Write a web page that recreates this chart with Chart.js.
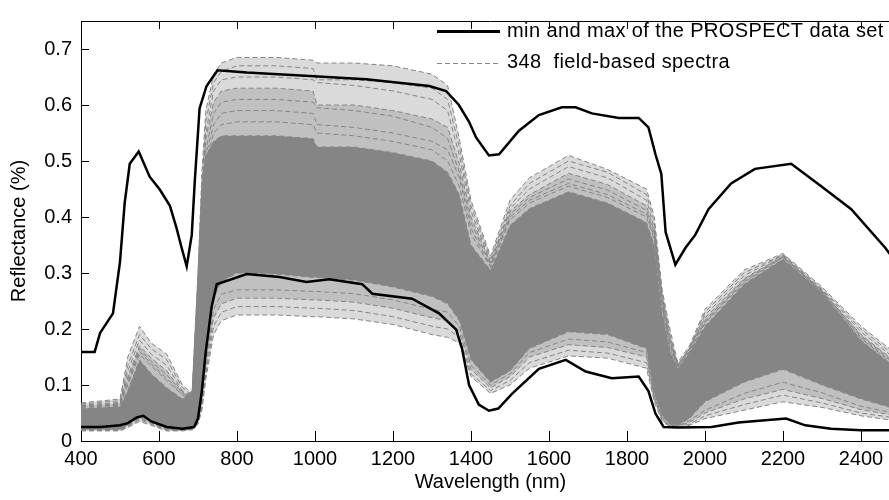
<!DOCTYPE html>
<html>
<head>
<meta charset="utf-8">
<title>Reflectance spectra</title>
<script src="https://cdn.jsdelivr.net/npm/chart.js@4.4.1/dist/chart.umd.min.js"></script>
<style>
  html, body { margin: 0; padding: 0; background: #fff; overflow: hidden; }
  #wrap { position: relative; width: 910px; height: 500px; }
</style>
</head>
<body>
<div id="wrap"><canvas id="chart"></canvas></div>
<script>
// axis ticks
const xTicks = [400, 600, 800, 1000, 1200, 1400, 1600, 1800, 2000, 2200, 2400];
const yTicks = [0, 0.1, 0.2, 0.3, 0.4, 0.5, 0.6, 0.7];

// PROSPECT max envelope (nm, reflectance)
const maxWl = [400, 435, 449, 482, 500, 512, 525, 548, 576, 602, 628, 645, 658, 671, 684, 692, 699, 704, 722, 750,
  825, 986, 1131, 1293, 1336, 1369, 1395, 1413, 1446, 1472, 1523, 1574, 1633, 1668, 1710, 1779, 1830, 1855, 1873,
  1888, 1899, 1924, 1950, 1975, 2009, 2067, 2128, 2221, 2298, 2375, 2462, 2500];
const maxRefl = [0.159, 0.159, 0.193, 0.228, 0.32, 0.425, 0.495, 0.517, 0.472, 0.449, 0.42, 0.38, 0.345, 0.312, 0.368, 0.467, 0.54, 0.594, 0.634, 0.662,
  0.658, 0.652, 0.646, 0.634, 0.625, 0.60, 0.57, 0.542, 0.51, 0.512, 0.554, 0.582, 0.596, 0.596, 0.585, 0.577, 0.577, 0.56, 0.512,
  0.477, 0.373, 0.315, 0.345, 0.368, 0.414, 0.46, 0.486, 0.495, 0.455, 0.414, 0.345, 0.31];

// PROSPECT min envelope
const minWl = [400, 450, 500, 520, 543, 560, 580, 620, 660, 690, 700, 710, 720, 735, 748, 825, 909, 978, 1037, 1121, 1147,
  1249, 1318, 1362, 1377, 1395, 1420, 1446, 1470, 1505, 1574, 1643, 1694, 1761, 1830, 1855, 1873, 1894, 1932, 2017,
  2086, 2154, 2208, 2257, 2323, 2400, 2500];
const minRefl = [0.025, 0.025, 0.028, 0.032, 0.042, 0.045, 0.035, 0.025, 0.022, 0.025, 0.04, 0.09, 0.16, 0.24, 0.28, 0.298, 0.293, 0.284, 0.289, 0.28, 0.263,
  0.254, 0.228, 0.199, 0.165, 0.10, 0.065, 0.054, 0.058, 0.084, 0.129, 0.145, 0.124, 0.112, 0.115, 0.089, 0.049, 0.025, 0.024, 0.025,
  0.033, 0.037, 0.04, 0.028, 0.022, 0.019, 0.019];

// field spectra, sampled on a common wavelength grid
const fieldWl = [400, 500, 520, 550, 580, 620, 660, 685, 700, 710, 720, 740, 760, 800, 900, 995, 1005, 1100, 1200, 1300,
  1340, 1370, 1400, 1450, 1500, 1550, 1650, 1750, 1850, 1870, 1890, 1910, 1930, 1960, 2000, 2100, 2200, 2300, 2400, 2500];

// upper and lower edge of the dense bundle of spectra
const bandTop = [.058, .062, .090, .145, .120, .095, .075, .090, .300, .450, .510, .535, .545, .545, .545, .540,
  .525, .525, .515, .500, .480, .440, .350, .305, .385, .415, .445, .425, .390, .350, .230, .160,
  .130, .158, .205, .280, .325, .265, .180, .125];
const bandBottom = [.020, .020, .028, .045, .035, .022, .020, .022, .038, .075, .150, .255, .285, .300, .298, .292,
  .292, .287, .275, .258, .245, .215, .145, .105, .125, .165, .195, .190, .165, .085, .045, .030,
  .028, .040, .070, .105, .128, .100, .075, .055];

// sparse spectra above the bundle
const highSpectra = [
  [.068, .075, .150, .205, .175, .155, .100, .085, .300, .480, .590, .655, .675, .685, .685, .680,
   .675, .675, .670, .655, .635, .540, .430, .330, .430, .470, .510, .485, .450, .400, .270, .200,
   .140, .170, .235, .305, .335, .275, .205, .150],
  [.066, .072, .135, .190, .165, .145, .095, .082, .290, .460, .570, .640, .660, .670, .670, .665,
   .645, .645, .640, .630, .610, .525, .420, .325, .420, .460, .500, .480, .440, .390, .265, .190,
   .135, .165, .230, .300, .333, .272, .200, .145],
  [.064, .069, .125, .180, .155, .135, .090, .080, .280, .450, .550, .625, .645, .650, .650, .645,
   .640, .635, .625, .610, .590, .510, .410, .320, .415, .450, .490, .470, .430, .380, .260, .185,
   .135, .165, .225, .295, .332, .270, .195, .140],
  [.063, .067, .115, .170, .148, .125, .088, .078, .270, .440, .540, .605, .625, .630, .630, .625,
   .600, .600, .590, .575, .560, .495, .400, .318, .410, .440, .478, .458, .420, .375, .255, .180,
   .135, .165, .220, .290, .330, .268, .190, .135],
  [.062, .066, .110, .165, .142, .118, .086, .077, .260, .430, .520, .585, .605, .610, .610, .605,
   .595, .590, .580, .560, .540, .480, .390, .315, .405, .435, .468, .448, .412, .370, .250, .175,
   .135, .165, .215, .288, .330, .268, .188, .132],
  [.061, .065, .105, .160, .138, .112, .084, .076, .250, .420, .510, .565, .585, .590, .590, .585,
   .565, .560, .550, .535, .520, .470, .380, .312, .400, .430, .460, .440, .405, .365, .245, .170,
   .133, .162, .212, .285, .328, .266, .185, .130],
  [.060, .064, .100, .155, .134, .108, .082, .075, .240, .410, .500, .550, .565, .570, .570, .565,
   .550, .545, .535, .520, .500, .455, .370, .310, .395, .425, .455, .435, .400, .360, .240, .165,
   .132, .160, .210, .283, .328, .266, .183, .128]
];

// sparse spectra below the bundle
const lowSpectra = [
  [.018, .018, .024, .035, .028, .018, .018, .020, .030, .055, .110, .190, .215, .225, .225, .222,
   .222, .218, .208, .190, .185, .175, .115, .085, .100, .130, .152, .148, .130, .070, .035, .025,
   .024, .028, .040, .055, .070, .060, .045, .035],
  [.019, .019, .026, .038, .030, .019, .019, .021, .032, .060, .120, .205, .230, .240, .240, .237,
   .237, .233, .222, .205, .200, .185, .120, .090, .108, .140, .162, .157, .140, .075, .038, .026,
   .025, .030, .045, .065, .082, .068, .050, .040],
  [.020, .020, .027, .040, .032, .020, .019, .021, .034, .065, .130, .220, .245, .255, .255, .252,
   .252, .248, .237, .220, .215, .195, .128, .095, .115, .150, .172, .167, .150, .078, .040, .027,
   .026, .033, .050, .075, .092, .076, .056, .044],
  [.021, .021, .028, .042, .033, .021, .020, .022, .036, .070, .140, .235, .262, .270, .270, .267,
   .267, .263, .252, .235, .230, .205, .135, .100, .120, .158, .182, .177, .158, .080, .042, .028,
   .027, .036, .055, .085, .105, .086, .062, .048]
];

const legendLabels = ['min and max of the PROSPECT data set', '348  field-based spectra'];

const GRAY = '#858585';
const HAZE = 'rgba(133, 133, 133, 0.3)';
const FONT = "'Liberation Sans', Arial, sans-serif";

const toPoints = (xs, ys) => xs.map((x, i) => ({ x: x, y: ys[i] }));

const grayLine = (ys, extra) => Object.assign({
  data: toPoints(fieldWl, ys),
  borderColor: GRAY,
  borderWidth: 1,
  borderDash: [5, 3],
  fill: false,
  order: 1
}, extra || {});

// 0,1 black envelopes; 2,3 dense bundle; then sparse spectra
const datasets = [
  { data: toPoints(maxWl, maxRefl), borderColor: '#000', borderWidth: 2.5, fill: false, order: 0 },
  { data: toPoints(minWl, minRefl), borderColor: '#000', borderWidth: 2.5, fill: false, order: 0 },
  grayLine(bandTop, { fill: '+1', backgroundColor: GRAY }),
  grayLine(bandBottom)
];
// the sparse spectra get a light haze towards the bundle, thicker near it
highSpectra.forEach((s, i) => datasets.push(grayLine(s, (i === 0 || i === 3) ? { fill: 2, backgroundColor: HAZE } : {})));
lowSpectra.forEach((s, i) => datasets.push(grayLine(s, (i === 0 || i === 2) ? { fill: 3, backgroundColor: HAZE } : {})));

// MATLAB style box with inward ticks, plus legend inside the axes
const boxPlugin = {
  id: 'box',
  afterDraw(chart) {
    const { ctx, chartArea: a } = chart;
    const xs = chart.scales.x, ys = chart.scales.y;
    ctx.save();
    ctx.strokeStyle = '#000';
    ctx.lineWidth = 1;
    ctx.beginPath();
    ctx.moveTo(a.left, a.top + 0.5);
    ctx.lineTo(a.right, a.top + 0.5);
    ctx.moveTo(a.right - 0.5, a.top);
    ctx.lineTo(a.right - 0.5, a.bottom);
    xTicks.forEach(v => {
      const px = Math.round(xs.getPixelForValue(v)) + 0.5;
      ctx.moveTo(px, a.bottom); ctx.lineTo(px, a.bottom - 10);
      ctx.moveTo(px, a.top); ctx.lineTo(px, a.top + 8);
    });
    yTicks.forEach(v => {
      const py = Math.round(ys.getPixelForValue(v)) + 0.5;
      ctx.moveTo(a.left, py); ctx.lineTo(a.left + 8, py);
      ctx.moveTo(a.right, py); ctx.lineTo(a.right - 8, py);
    });
    ctx.stroke();

    // legend
    ctx.font = '20px ' + FONT;
    ctx.letterSpacing = '0.4px';
    ctx.fillStyle = '#000';
    ctx.textBaseline = 'middle';
    ctx.textAlign = 'left';
    ctx.lineWidth = 3;
    ctx.beginPath();
    ctx.moveTo(437, 31.5); ctx.lineTo(500, 31.5);
    ctx.stroke();
    ctx.fillText(legendLabels[0], 507, 31);
    ctx.strokeStyle = GRAY;
    ctx.lineWidth = 1;
    ctx.setLineDash([5, 3]);
    ctx.beginPath();
    ctx.moveTo(437, 63.5); ctx.lineTo(500, 63.5);
    ctx.stroke();
    ctx.fillText(legendLabels[1], 507, 62);
    ctx.restore();
  }
};

const tickFont = { family: FONT, size: 20 };

new Chart(document.getElementById('chart'), {
  type: 'line',
  data: { datasets: datasets },
  plugins: [boxPlugin],
  options: {
    responsive: true,
    maintainAspectRatio: false,
    animation: false,
    layout: { padding: { top: 11, right: 10, left: 0, bottom: 0 } },
    elements: { point: { radius: 0 }, line: { tension: 0 } },
    plugins: { legend: { display: false }, tooltip: { enabled: false } },
    scales: {
      x: {
        type: 'linear', min: 400, max: 2500,
        afterBuildTicks: s => { s.ticks = xTicks.map(v => ({ value: v })); },
        afterFit: s => { s.height = 59; },
        grid: { display: false, drawTicks: false },
        border: { display: true, color: '#000', width: 1 },
        ticks: { color: '#000', font: tickFont, padding: 6, maxRotation: 0, autoSkip: false,
          callback: v => String(v) },
        title: { display: true, text: 'Wavelength (nm)', color: '#000', font: tickFont,
          padding: { top: 0, bottom: 6 } }
      },
      y: {
        type: 'linear', min: 0, max: 0.75,
        afterBuildTicks: s => { s.ticks = yTicks.map(v => ({ value: v })); },
        afterFit: s => { s.width = 81; },
        grid: { display: false, drawTicks: false },
        border: { display: true, color: '#000', width: 1 },
        ticks: { color: '#000', font: tickFont, padding: 9,
          callback: v => (v === 0 ? '0' : v.toFixed(1)) },
        title: { display: true, text: 'Reflectance (%)', color: '#000', font: tickFont,
          padding: { top: 7, bottom: 0 } }
      }
    }
  }
});
</script>
</body>
</html>
